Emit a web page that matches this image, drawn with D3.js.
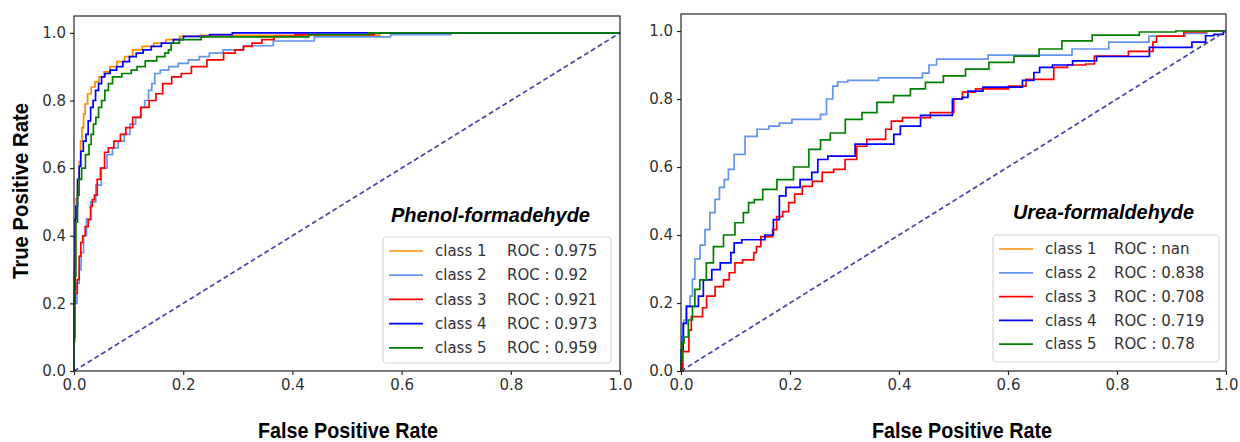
<!DOCTYPE html>
<html>
<head>
<meta charset="utf-8">
<script src="https://cdn.jsdelivr.net/npm/d3@7"></script>
<style>
  body { margin: 0; background: #fff; }
  svg { display: block; }
</style>
</head>
<body>
<svg id="chart" width="1240" height="442"></svg>
<script>
// ---- data: [fpr, tpr] corner points ----
var classNames = ['class 1', 'class 2', 'class 3', 'class 4', 'class 5'];
var classColors = ['darkorange', 'cornflowerblue', 'red', 'blue', 'green'];
var tickValues = [0, 0.2, 0.4, 0.6, 0.8, 1.0];

var pfTitle = 'Phenol-formadehyde';
var pfScores = ['0.975', '0.92', '0.921', '0.973', '0.959'];
var pfClass1 = [[0,0],[0,0.30],[0.002,0.33],[0.003,0.45],[0.005,0.51],[0.008,0.56],[0.011,0.62],[0.013,0.68],[0.016,0.72],[0.019,0.76],[0.022,0.79],[0.028,0.82],[0.035,0.84],[0.042,0.855],[0.05,0.87],[0.06,0.885],[0.072,0.9],[0.085,0.915],[0.1,0.93],[0.115,0.95],[0.135,0.96],[0.157,0.97],[0.18,0.98],[0.207,0.99],[0.255,0.993],[0.56,0.993],[0.56,1],[1,1]];
var pfClass2 = [[0,0],[0,0.1],[0.003,0.2],[0.008,0.26],[0.011,0.3],[0.015,0.35],[0.02,0.4],[0.026,0.45],[0.035,0.5],[0.045,0.55],[0.055,0.6],[0.066,0.64],[0.075,0.66],[0.087,0.68],[0.097,0.7],[0.108,0.73],[0.118,0.75],[0.126,0.78],[0.133,0.8],[0.14,0.83],[0.145,0.85],[0.151,0.88],[0.165,0.89],[0.182,0.9],[0.2,0.91],[0.219,0.92],[0.24,0.93],[0.256,0.94],[0.29,0.95],[0.33,0.962],[0.4,0.976],[0.48,0.988],[0.68,0.995],[0.7,1],[1,1]];
var pfClass3 = [[0,0],[0,0.2],[0.004,0.23],[0.008,0.27],[0.011,0.34],[0.014,0.38],[0.018,0.4],[0.023,0.427],[0.029,0.448],[0.032,0.487],[0.035,0.507],[0.04,0.52],[0.045,0.567],[0.052,0.6],[0.06,0.647],[0.066,0.66],[0.08,0.68],[0.09,0.7],[0.1,0.72],[0.115,0.75],[0.13,0.78],[0.145,0.8],[0.155,0.82],[0.17,0.85],[0.188,0.87],[0.205,0.88],[0.225,0.9],[0.262,0.92],[0.286,0.94],[0.304,0.95],[0.317,0.96],[0.335,0.97],[0.353,0.98],[0.38,0.99],[0.43,0.995],[0.55,0.995],[0.55,1],[1,1]];
var pfClass4 = [[0,0],[0,0.10],[0.002,0.24],[0.002,0.448],[0.005,0.487],[0.008,0.567],[0.011,0.605],[0.014,0.65],[0.02,0.68],[0.024,0.7],[0.028,0.74],[0.033,0.78],[0.037,0.8],[0.042,0.83],[0.048,0.85],[0.053,0.87],[0.06,0.88],[0.072,0.89],[0.084,0.9],[0.095,0.915],[0.108,0.93],[0.12,0.94],[0.133,0.95],[0.15,0.96],[0.17,0.97],[0.194,0.98],[0.207,0.99],[0.29,0.995],[0.29,1],[1,1]];
var pfClass5 = [[0,0],[0,0.086],[0.002,0.28],[0.005,0.44],[0.008,0.52],[0.011,0.567],[0.017,0.6],[0.025,0.64],[0.03,0.67],[0.033,0.7],[0.038,0.73],[0.042,0.75],[0.048,0.78],[0.053,0.8],[0.06,0.83],[0.066,0.85],[0.075,0.87],[0.1,0.88],[0.11,0.89],[0.121,0.9],[0.14,0.917],[0.163,0.93],[0.17,0.94],[0.176,0.95],[0.18,0.97],[0.206,0.98],[0.26,0.988],[0.43,0.988],[0.43,0.995],[0.54,0.995],[0.54,1],[1,1]];

var ufTitle = 'Urea-formaldehyde';
var ufScores = ['nan', '0.838', '0.708', '0.719', '0.78'];
var ufClass1 = [];
var ufClass2 = [[0,0],[0.003,0.1],[0.007,0.15],[0.013,0.19],[0.02,0.22],[0.022,0.27],[0.029,0.33],[0.041,0.37],[0.047,0.416],[0.059,0.466],[0.066,0.505],[0.075,0.54],[0.084,0.563],[0.09,0.593],[0.105,0.637],[0.13,0.69],[0.149,0.711],[0.173,0.72],[0.188,0.729],[0.219,0.74],[0.252,0.74],[0.26,0.755],[0.274,0.8],[0.283,0.838],[0.292,0.85],[0.32,0.855],[0.36,0.855],[0.365,0.862],[0.434,0.862],[0.452,0.876],[0.458,0.9],[0.48,0.917],[0.562,0.917],[0.565,0.929],[0.715,0.929],[0.72,0.947],[0.78,0.947],[0.79,0.967],[0.857,0.967],[0.86,0.985],[0.92,0.985],[0.93,0.993],[1,1]];
var ufClass3 = [[0,0],[0.007,0.057],[0.013,0.057],[0.016,0.12],[0.022,0.16],[0.038,0.16],[0.041,0.186],[0.053,0.22],[0.072,0.248],[0.084,0.268],[0.093,0.289],[0.105,0.318],[0.121,0.327],[0.132,0.327],[0.135,0.348],[0.142,0.366],[0.151,0.395],[0.167,0.395],[0.169,0.416],[0.182,0.454],[0.191,0.469],[0.204,0.495],[0.213,0.52],[0.232,0.543],[0.25,0.558],[0.268,0.584],[0.292,0.593],[0.31,0.622],[0.335,0.661],[0.347,0.681],[0.372,0.681],[0.379,0.711],[0.393,0.735],[0.42,0.745],[0.445,0.745],[0.47,0.76],[0.494,0.76],[0.507,0.8],[0.526,0.82],[0.555,0.83],[0.592,0.83],[0.61,0.838],[0.63,0.838],[0.636,0.858],[0.678,0.858],[0.69,0.893],[0.728,0.9],[0.757,0.903],[0.76,0.926],[0.82,0.926],[0.822,0.94],[0.862,0.94],[0.87,0.967],[0.875,0.985],[0.92,0.985],[0.925,0.997],[1,1]];
var ufClass4 = [[0,0],[0.001,0.062],[0.007,0.14],[0.013,0.19],[0.029,0.19],[0.035,0.22],[0.047,0.268],[0.066,0.298],[0.078,0.318],[0.09,0.318],[0.093,0.348],[0.102,0.377],[0.121,0.386],[0.145,0.386],[0.163,0.4],[0.176,0.445],[0.185,0.515],[0.2,0.54],[0.237,0.563],[0.243,0.584],[0.259,0.622],[0.28,0.632],[0.31,0.632],[0.329,0.667],[0.384,0.667],[0.397,0.696],[0.408,0.72],[0.436,0.72],[0.443,0.752],[0.489,0.752],[0.507,0.8],[0.525,0.805],[0.528,0.823],[0.553,0.823],[0.555,0.835],[0.623,0.835],[0.63,0.855],[0.645,0.855],[0.65,0.878],[0.666,0.893],[0.697,0.9],[0.74,0.912],[0.785,0.925],[0.857,0.925],[0.862,0.952],[0.935,0.952],[0.94,0.967],[0.96,0.967],[0.965,0.986],[0.99,0.99],[1,1]];
var ufClass5 = [[0,0],[0,0.03],[0.004,0.083],[0.007,0.1],[0.02,0.15],[0.022,0.19],[0.029,0.24],[0.04,0.268],[0.053,0.318],[0.066,0.366],[0.09,0.4],[0.108,0.436],[0.121,0.466],[0.127,0.495],[0.142,0.504],[0.158,0.534],[0.194,0.563],[0.219,0.6],[0.25,0.652],[0.262,0.68],[0.286,0.7],[0.317,0.74],[0.347,0.76],[0.372,0.79],[0.408,0.81],[0.434,0.83],[0.463,0.849],[0.5,0.868],[0.544,0.888],[0.586,0.908],[0.636,0.926],[0.678,0.947],[0.72,0.971],[0.789,0.988],[0.893,0.997],[0.923,1],[1,1]];

var panels = [
    { title: pfTitle, scores: pfScores, curves: [pfClass1, pfClass2, pfClass3, pfClass4, pfClass5],
      left: 74, right: 620, top: 16, yLabel: true,
      titleX: 391, titleY: 222, titleW: 199,
      legX: 383, legY: 237, legW: 228, legH: 126, legStep: 24.2, rocX: 507, xLabelX: 348 },
    { title: ufTitle, scores: ufScores, curves: [ufClass1, ufClass2, ufClass3, ufClass4, ufClass5],
      left: 681, right: 1226, top: 14, yLabel: false,
      titleX: 1013, titleY: 219, titleW: 181,
      legX: 993, legY: 235, legW: 226, legH: 127, legStep: 23.8, rocX: 1114, xLabelX: 962 }
];

var bottom = 371;
var svg = d3.select('#chart');
var fmt = d3.format('.1f');

panels.forEach(function(p) {
    var x = d3.scaleLinear().domain([0, 1]).range([p.left, p.right]);
    var y = d3.scaleLinear().domain([0, 1.05]).range([bottom, p.top]);
    var g = svg.append('g');

    var line = d3.line()
        .x(function(d) { return x(d[0]); })
        .y(function(d) { return y(d[1]); })
        .curve(d3.curveStep);

    p.curves.forEach(function(c, i) {
        if (!c.length) return;
        g.append('path')
            .datum(c)
            .attr('d', line)
            .attr('fill', 'none')
            .attr('stroke', classColors[i])
            .attr('stroke-width', 1.7);
    });

    // chance line
    g.append('path')
        .datum([[0, 0], [1, 1]])
        .attr('d', d3.line().x(function(d) { return x(d[0]); }).y(function(d) { return y(d[1]); }))
        .attr('fill', 'none')
        .attr('stroke', '#4444a6')
        .attr('stroke-width', 1.7)
        .attr('stroke-dasharray', '5,3');

    // frame
    g.append('rect')
        .attr('x', p.left).attr('y', p.top)
        .attr('width', p.right - p.left).attr('height', bottom - p.top)
        .attr('fill', 'none').attr('stroke', '#262626').attr('stroke-width', 1.2);

    var xAxis = g.append('g')
        .attr('transform', 'translate(0,' + bottom + ')')
        .call(d3.axisBottom(x).tickValues(tickValues).tickFormat(fmt).tickSize(4).tickPadding(4));
    var yAxis = g.append('g')
        .attr('transform', 'translate(' + p.left + ',0)')
        .call(d3.axisLeft(y).tickValues(tickValues).tickFormat(fmt).tickSize(4).tickPadding(4));
    [xAxis, yAxis].forEach(function(a) {
        a.select('.domain').remove();
        a.selectAll('line').attr('stroke', '#262626').attr('stroke-width', 1.2);
        a.selectAll('text')
            .attr('fill', '#333')
            .style('font-family', 'DejaVu Sans, sans-serif')
            .style('font-size', '15px');
    });

    // title
    g.append('text')
        .attr('x', p.titleX).attr('y', p.titleY)
        .attr('textLength', p.titleW).attr('lengthAdjust', 'spacingAndGlyphs')
        .style('font-family', 'Liberation Sans, Arial, sans-serif')
        .style('font-weight', 'bold').style('font-style', 'italic')
        .style('font-size', '20px')
        .attr('fill', '#000')
        .text(p.title);

    // legend
    var leg = g.append('g');
    leg.append('rect')
        .attr('x', p.legX).attr('y', p.legY)
        .attr('width', p.legW).attr('height', p.legH)
        .attr('rx', 3)
        .attr('fill', '#fff').attr('fill-opacity', 0.8)
        .attr('stroke', '#d4d4d4');
    classNames.forEach(function(name, i) {
        var cy = p.legY + 14 + i * p.legStep;
        leg.append('line')
            .attr('x1', p.legX + 6).attr('x2', p.legX + 40)
            .attr('y1', cy).attr('y2', cy)
            .attr('stroke', classColors[i]).attr('stroke-width', 1.7);
        leg.append('text')
            .attr('x', p.legX + 52).attr('y', cy)
            .attr('dy', '0.35em')
            .attr('fill', '#333')
            .style('font-family', 'DejaVu Sans, sans-serif').style('font-size', '15px')
            .text(name);
        leg.append('text')
            .attr('x', p.rocX).attr('y', cy)
            .attr('dy', '0.35em')
            .attr('fill', '#333')
            .style('font-family', 'DejaVu Sans, sans-serif').style('font-size', '15px')
            .text('ROC : ' + p.scores[i]);
    });

    // axis labels
    g.append('text')
        .attr('x', p.xLabelX).attr('y', 438)
        .attr('text-anchor', 'middle')
        .attr('textLength', 180).attr('lengthAdjust', 'spacingAndGlyphs')
        .style('font-family', 'Liberation Sans Narrow, Liberation Sans, Arial, sans-serif')
        .style('font-weight', 'bold').style('font-size', '22px')
        .attr('fill', '#000')
        .text('False Positive Rate');

    if (p.yLabel) {
        g.append('text')
            .attr('transform', 'translate(28,191) rotate(-90)')
            .attr('text-anchor', 'middle')
            .attr('textLength', 176).attr('lengthAdjust', 'spacingAndGlyphs')
            .style('font-family', 'Liberation Sans Narrow, Liberation Sans, Arial, sans-serif')
            .style('font-weight', 'bold').style('font-size', '22px')
            .attr('fill', '#000')
            .text('True Positive Rate');
    }
});
</script>
</body>
</html>
